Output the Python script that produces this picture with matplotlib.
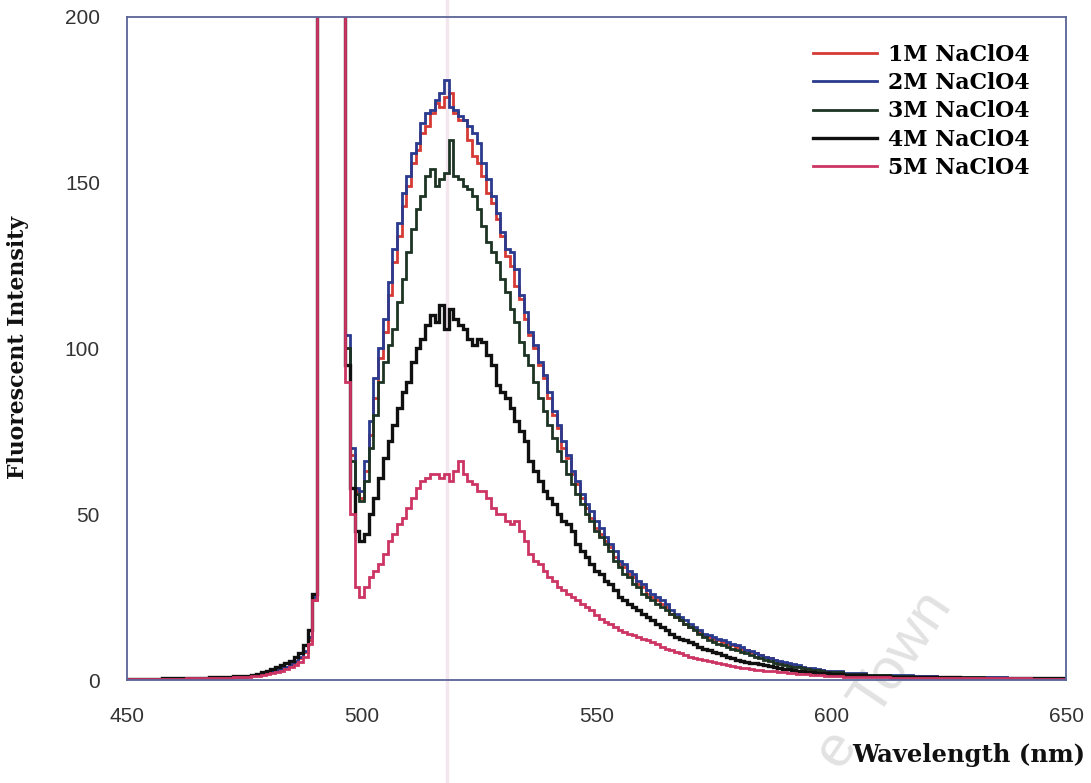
import matplotlib
matplotlib.use("Agg")
import matplotlib.pyplot as plt
from matplotlib.lines import Line2D
from matplotlib.font_manager import FontProperties

# Emission spectra of the dye at five perchlorate concentrations
wavelength = [450, 455, 460, 465, 470, 475] + list(range(476, 601)) + list(range(605, 651, 5))

series_labels = ["1M NaClO4", "2M NaClO4", "3M NaClO4", "4M NaClO4", "5M NaClO4"]

na_1m = [0.4, 0.4, 0.5, 0.6, 0.8, 1.0,
         1.2, 1.4, 1.6, 1.9, 2.2, 2.6, 3.0, 3.4, 3.9, 4.6,
         5.4, 6.5, 8.5, 12, 24, 400, 900, 900, 900, 900,
         900, 100, 68, 57, 55, 63, 74, 85, 97, 105,
         116, 126, 134, 143, 149, 156, 160, 165, 167, 171,
         174, 173, 176, 177, 171, 169, 169, 163, 158, 156,
         152, 147, 144, 139, 134, 128, 125, 119, 115, 109,
         104, 100, 95, 91, 85, 80, 76, 70, 67, 62,
         59, 55, 52, 49, 46, 44, 42, 40, 37, 35,
         34, 32, 31, 29, 28, 26, 25, 24, 23, 22,
         20, 19, 18, 17, 16, 15.5, 14.5, 13.5, 13, 12.5,
         12, 11.5, 11, 10.5, 10, 9.5, 9, 8.5, 8, 7.5,
         7, 6.5, 6, 5.5, 5.2, 4.9, 4.6, 4.2, 3.9, 3.6,
         3.4, 3.1, 2.9, 2.7, 2.5,
         1.9, 1.5, 1.3, 1.1, 1.0, 0.8, 0.7, 0.6, 0.6, 0.5]

na_2m = [0.4, 0.4, 0.5, 0.6, 0.8, 1.0,
         1.2, 1.4, 1.7, 2.0, 2.3, 2.7, 3.1, 3.5, 4.0, 4.7,
         5.6, 6.8, 8.8, 13, 25, 400, 900, 900, 900, 900,
         900, 104, 70, 58, 57, 66, 78, 91, 100, 109,
         120, 130, 138, 147, 152, 159, 162, 168, 171, 172,
         175, 177, 181, 173, 172, 170, 169, 167, 165, 162,
         156, 151, 146, 141, 135, 130, 129, 124, 116, 111,
         105, 101, 96, 92, 87, 81, 77, 72, 68, 63,
         60, 56, 53, 51, 48, 46, 43, 41, 39, 36,
         35, 33, 32, 30, 29, 27, 26, 25, 24, 23,
         21, 20, 19, 18, 17, 16, 15, 14, 13.5, 13,
         12.5, 12, 11.5, 11, 10.5, 10, 9.2, 8.6, 8, 7.5,
         7, 6.6, 6.1, 5.8, 5.5, 5, 4.7, 4.4, 4, 3.7,
         3.5, 3.2, 3, 2.8, 2.6,
         2.0, 1.6, 1.4, 1.2, 1.0, 0.9, 0.8, 0.7, 0.6, 0.6]

na_3m = [0.4, 0.4, 0.5, 0.6, 0.8, 1.1,
         1.3, 1.6, 1.9, 2.3, 2.8, 3.3, 3.9, 4.4, 5.0, 5.8,
         6.8, 8.0, 10.5, 15, 26, 400, 900, 900, 900, 900,
         900, 100, 66, 56, 54, 60, 70, 80, 90, 96,
         101, 106, 114, 121, 129, 136, 142, 146, 152, 154,
         149, 151, 153, 163, 152, 151, 149, 148, 146, 142,
         137, 132, 129, 126, 121, 117, 112, 108, 102, 98,
         95, 90, 85, 81, 77, 73, 69, 66, 62, 59,
         56, 53, 50, 48, 45, 43, 41, 39, 36, 34,
         32, 31, 29, 28, 26, 25, 24, 23, 22, 21,
         20, 19, 18, 17, 16, 15, 14, 13, 12, 11.5,
         11, 10.5, 10, 9.5, 9, 8.5, 8, 7.5, 7, 6.5,
         6, 5.6, 5.2, 4.9, 4.6, 4.3, 4, 3.8, 3.5, 3.3,
         3.1, 2.9, 2.7, 2.5, 2.3,
         1.8, 1.5, 1.2, 1.0, 0.9, 0.8, 0.7, 0.6, 0.5, 0.5]

na_4m = [0.4, 0.4, 0.5, 0.6, 0.8, 1.1,
         1.3, 1.6, 1.9, 2.3, 2.8, 3.3, 3.9, 4.4, 5.0, 5.8,
         6.8, 8.0, 10.5, 15, 26, 400, 900, 900, 900, 900,
         900, 95, 58, 45, 42, 44, 50, 55, 61, 67,
         72, 77, 82, 87, 90, 96, 100, 103, 107, 110,
         108, 113, 106, 112, 109, 107, 106, 103, 101, 103,
         102, 98, 95, 89, 87, 85, 82, 78, 75, 72,
         66, 63, 60, 57, 55, 53, 50, 48, 47, 45,
         41, 39, 37, 35, 33, 32, 30, 29, 27, 25,
         24, 23, 22, 21, 20, 19, 18, 17, 16, 15,
         14, 13, 12.5, 12, 11.5, 11, 10, 9.5, 9, 8.5,
         8, 7.5, 7, 6.5, 6, 5.8, 5.5, 5.2, 5, 4.7,
         4.4, 4.1, 3.8, 3.6, 3.4, 3.2, 3, 2.8, 2.6, 2.4,
         2.3, 2.2, 2.1, 2, 1.9,
         1.5, 1.2, 1.0, 0.9, 0.8, 0.7, 0.6, 0.5, 0.5, 0.5]

na_5m = [0.3, 0.3, 0.4, 0.5, 0.6, 0.8,
         1.0, 1.1, 1.3, 1.5, 1.8, 2.1, 2.4, 2.8, 3.3, 3.9,
         4.6, 5.5, 7.0, 11, 24, 400, 900, 900, 900, 900,
         900, 90, 50, 28, 25, 28, 31, 33, 35, 38,
         42, 44, 47, 49, 52, 55, 58, 60, 61, 62,
         62, 61, 62, 60, 63, 66, 62, 60, 59, 57,
         57, 55, 52, 50, 50, 48, 47, 48, 45, 42,
         38, 36, 35, 33, 31, 30, 28, 27, 26, 25,
         24, 23, 22, 21, 19.5, 18.5, 17.5, 17, 16, 15,
         14.5, 14, 13.5, 13, 12.5, 12, 11.5, 11, 10, 9.5,
         9, 8.5, 8, 7.5, 7, 6.5, 6.2, 6, 5.7, 5.4,
         5, 4.7, 4.4, 4.1, 3.9, 3.7, 3.5, 3.3, 3.1, 3,
         2.8, 2.7, 2.6, 2.4, 2.3, 2.1, 2, 1.9, 1.8, 1.7,
         1.6, 1.5, 1.4, 1.3, 1.2,
         1.0, 0.8, 0.7, 0.6, 0.6, 0.5, 0.5, 0.5, 0.4, 0.4]

series_values = [na_1m, na_2m, na_3m, na_4m, na_5m]
series_colors = ["#d63a34", "#2a3a8e", "#1d3424", "#101010", "#cc3563"]
series_widths = [2.0, 2.0, 2.0, 2.4, 2.0]

x_ticks = [450, 500, 550, 600, 650]
y_ticks = [0, 50, 100, 150, 200]

W, H = 1091, 783
fig = plt.figure(figsize=(W / 100, H / 100), dpi=100)
fig.patch.set_facecolor("white")

ax = fig.add_axes([127 / W, 1 - 680 / H, (1066 - 127) / W, (680 - 17) / H])
ax.set_zorder(1)
ax.patch.set_visible(False)

for vals, lab, col, lw in zip(series_values, series_labels, series_colors, series_widths):
    ax.plot(wavelength, vals, color=col, lw=lw, label=lab, drawstyle="steps-mid",
            solid_joinstyle="miter")

ax.set_xlim(450, 650)
ax.set_ylim(0, 200)
ax.set_xticks(x_ticks)
ax.set_yticks(y_ticks)
ax.tick_params(length=0, pad=19.5, labelsize=15, labelcolor="#333333")
for lbl in ax.get_xticklabels() + ax.get_yticklabels():
    lbl.set_fontfamily("Liberation Sans")
for sp in ax.spines.values():
    sp.set_color("#5b6596")
    sp.set_linewidth(1.3)

# faint vertical streak running across the page
fig.add_artist(Line2D([447 / W, 447 / W], [0, 1], transform=fig.transFigure,
                      color="#f4e6ef", lw=2.5, zorder=0.5))

renderer = fig.canvas.get_renderer()


def fitted_size(text, target_px, family="DejaVu Serif", weight="bold"):
    probe = fig.text(0, 0, text, family=family, weight=weight, fontsize=20)
    w = probe.get_window_extent(renderer).width
    probe.remove()
    return 20 * target_px / w


label_font = "DejaVu Serif"
x_size = fitted_size("Wavelength (nm)", 233)
y_size = fitted_size("Fluorescent Intensity", 265)
leg_size = fitted_size("1M NaClO4", 142)

fig.text(1085 / W, 1 - 755 / H, "Wavelength (nm)", ha="right", va="center",
         family=label_font, weight="bold", fontsize=x_size, color="#111111")
fig.text(18 / W, 1 - 347 / H, "Fluorescent Intensity", ha="center", va="center",
         rotation=90, family=label_font, weight="bold", fontsize=y_size, color="#111111")

leg_px = leg_size * 100 / 72
leg = ax.legend(loc="upper left", bbox_to_anchor=(813 / W, 1 - 44 / H),
                bbox_transform=fig.transFigure, frameon=False, borderpad=0,
                borderaxespad=0, handlelength=64 / leg_px, handletextpad=11 / leg_px,
                labelspacing=0.28,
                prop=FontProperties(family=label_font, weight="bold", size=leg_size))

# pale watermark lettering
fig.text(884 / W, 1 - 680 / H, "e  Town", rotation=56, ha="center", va="center",
         rotation_mode="anchor", family="Liberation Sans", fontsize=42,
         color="#e2e2e2", zorder=0.4)

fig.savefig("out.png", dpi=100, facecolor="white")
